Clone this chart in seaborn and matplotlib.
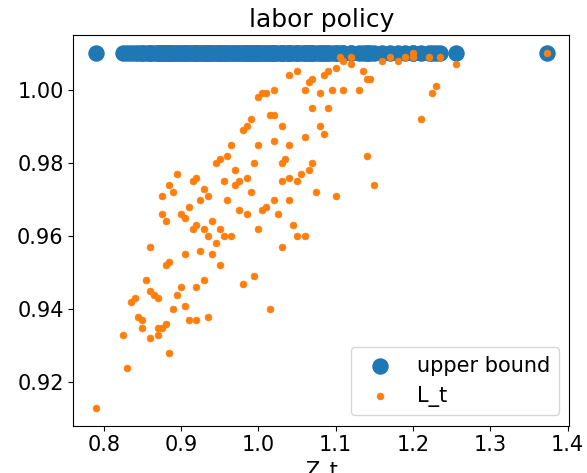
import numpy as np
import pandas as pd
import seaborn as sns
from matplotlib import pyplot as plt

# points (Z_t, L_t)
z_t = [0.79, 0.83, 0.825, 0.835, 0.84, 0.845, 0.85, 0.85, 0.86, 0.865, 0.87, 0.87, 0.875, 0.88, 0.885,
       0.86, 0.875, 0.88, 0.875, 0.885, 0.89, 0.895, 0.88, 0.885, 0.89, 0.895, 0.9, 0.905, 0.9, 0.905,
       0.91, 0.915, 0.92, 0.915, 0.92, 0.925, 0.93, 0.935, 0.93, 0.935, 0.94, 0.945, 0.95, 0.955, 0.92,
       0.93, 0.91, 0.92, 0.935, 0.905, 0.925, 0.945, 0.95, 0.96, 0.965, 0.97, 0.975, 0.97, 0.98, 0.985,
       0.99, 0.985, 0.99, 0.965, 0.975, 0.985, 0.98, 0.995, 1.0, 1.005, 1.01, 1.015, 1.0, 1.005, 1.01,
       1.015, 1.02, 1.02, 1.03, 1.035, 1.04, 1.02, 1.03, 1.04, 1.045, 1.05, 1.03, 1.04, 1.05, 1.055,
       1.06, 1.065, 1.07, 1.075, 1.08, 1.085, 1.09, 1.1, 1.04, 1.05, 1.06, 1.065, 1.07, 1.08, 1.085,
       1.09, 1.095, 1.1, 1.105, 1.11, 1.12, 1.13, 1.135, 1.14, 1.145, 1.14, 1.15, 1.16, 1.18, 1.19,
       1.2, 1.21, 1.22, 1.225, 1.23, 1.235, 1.255, 1.373, 1.02, 1.03, 1.0, 0.995, 0.96, 0.955, 0.94,
       0.95, 0.87, 0.855, 0.86, 1.025, 1.06, 1.07, 1.11, 1.12, 1.2, 1.17]
l_t = [0.913, 0.924, 0.933, 0.942, 0.943, 0.938, 0.937, 0.935, 0.932, 0.944, 0.943, 0.933, 0.935, 0.936, 0.928,
       0.957, 0.966, 0.964, 0.971, 0.974, 0.972, 0.977, 0.952, 0.953, 0.94, 0.944, 0.946, 0.941, 0.966, 0.965,
       0.968, 0.962, 0.963, 0.975, 0.976, 0.97, 0.973, 0.971, 0.962, 0.96, 0.964, 0.958, 0.962, 0.96, 0.946,
       0.948, 0.937, 0.937, 0.938, 0.955, 0.956, 0.98, 0.981, 0.982, 0.985, 0.978, 0.975, 0.974, 0.989, 0.99,
       0.992, 0.976, 0.972, 0.96, 0.967, 0.966, 0.947, 0.949, 0.962, 0.967, 0.968, 0.94, 0.998, 0.999, 0.999,
       0.993, 0.993, 0.986, 0.98, 0.981, 0.985, 0.97, 0.975, 0.976, 0.963, 0.96, 0.957, 0.97, 0.975, 0.977,
       0.987, 0.978, 0.98, 0.972, 0.99, 0.988, 0.995, 0.971, 1.004, 1.005, 1.0, 1.002, 1.003, 0.999, 1.004,
       1.005, 1.0, 1.006, 1.009, 1.0, 1.007, 1.0, 1.005, 1.003, 1.003, 0.982, 0.974, 1.008, 1.008, 1.009,
       1.01, 0.992, 1.009, 0.999, 1.001, 1.009, 1.007, 1.01, 1.0, 0.99, 0.985, 0.98, 0.97, 0.975, 0.955,
       0.952, 0.935, 0.948, 0.945, 0.966, 0.96, 0.995, 1.008, 1.009, 1.009, 1.009]
upper = 1.01

plt.rcParams['font.size'] = 15
fig, ax = plt.subplots(figsize=(5.87, 4.73), dpi=100)
sns.scatterplot(x=z_t, y=[upper] * len(z_t), s=120, color="C0", edgecolor=None,
                label="upper bound", ax=ax)
sns.scatterplot(x=z_t, y=l_t, s=25, color="C1", edgecolor=None, label="L_t", ax=ax)
ax.set_title("labor policy")
ax.set_xlabel("Z_t")
ax.legend(loc="lower right")
plt.subplots_adjust(left=0.125, right=0.97, top=0.925, bottom=0.10)
plt.savefig("out.png")
